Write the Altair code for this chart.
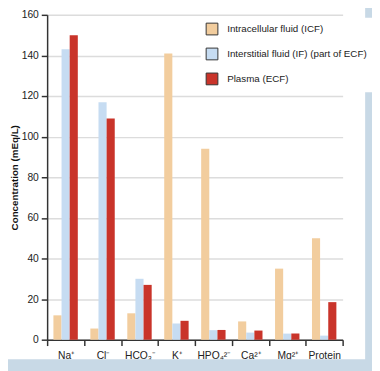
import altair as alt
import pandas as pd

categories = ["Na⁺", "Cl⁻", "HCO₃⁻", "K⁺", "HPO₄²⁻", "Ca²⁺", "Mg²⁺", "Protein"]
series = ["Intracellular fluid (ICF)", "Interstitial fluid (IF) (part of ECF)", "Plasma (ECF)"]
icf = [12, 5.5, 13, 141, 94, 9, 35, 50]
interstitial = [143, 117, 30, 8, 4.7, 3.5, 3, 2]
plasma = [150, 109, 27, 9.3, 4.8, 4.5, 3, 18.5]
colors = ["#f2cd9e", "#c6dcf2", "#c9342a"]
yticks = [0, 20, 40, 60, 80, 100, 120, 140, 160]

rows = []
for i, c in enumerate(categories):
    for s, vals in zip(series, [icf, interstitial, plasma]):
        rows.append({"ion": c, "fluid": s, "value": vals[i]})
df = pd.DataFrame(rows)

FONT = "Liberation Sans"
FS = 10.5
W, H = 302, 332
BG = "#c8d9e6"

bars = alt.Chart(df).mark_bar(size=8.3).encode(
    x=alt.X("ion:N", sort=categories,
            scale=alt.Scale(paddingInner=0, paddingOuter=0),
            axis=alt.Axis(title=None, labelAngle=0, tickBand="extent",
                          labelFont=FONT, labelFontSize=FS, labelColor="#222",
                          domainColor="#333", domainWidth=1.5,
                          tickColor="#333", tickWidth=1.5, tickSize=6,
                          labelPadding=5, grid=False)),
    xOffset=alt.XOffset("fluid:N", sort=series,
                        scale=alt.Scale(paddingOuter=0.77, paddingInner=0)),
    y=alt.Y("value:Q", scale=alt.Scale(domain=[0, 160], nice=False),
            axis=alt.Axis(title="Concentration (mEq/L)", values=yticks,
                          titleFont=FONT, titleFontSize=10, titleFontWeight="bold",
                          titleColor="#111", titlePadding=2,
                          labelFont=FONT, labelFontSize=FS, labelColor="#222",
                          labelPadding=3, tickSize=6, tickColor="#333", tickWidth=1.5,
                          domainColor="#333", domainWidth=1.5,
                          gridColor="#dcdcdc", gridWidth=1.5)),
    color=alt.Color("fluid:N", sort=series,
                    scale=alt.Scale(domain=series, range=colors),
                    legend=alt.Legend(title=None, orient="none", legendX=157, legendY=3,
                                      symbolType="square", symbolSize=144,
                                      symbolStrokeColor="#333", symbolStrokeWidth=1,
                                      symbolOpacity=1,
                                      labelFont=FONT, labelFontSize=10, labelColor="#222",
                                      labelOffset=9, rowPadding=8.5, labelLimit=0,
                                      padding=5, fillColor="white")),
)

strip_right = alt.Chart(alt.Data(values=[{}])).mark_rect(color=BG).encode(
    x=alt.value(W + 23), x2=alt.value(W + 40), y=alt.value(-10), y2=alt.value(H + 40))
strip_bottom = alt.Chart(alt.Data(values=[{}])).mark_rect(color=BG).encode(
    x=alt.value(-50), x2=alt.value(W + 40), y=alt.value(H + 20), y2=alt.value(H + 40))

chart = alt.layer(bars, strip_right, strip_bottom).properties(
    width=W, height=H,
    autosize=alt.AutoSizeParams(type="none"),
    padding={"left": 40, "top": 3, "right": 30, "bottom": 28},
    background="white",
).configure_view(stroke=None)

chart.save("out.html", embed_options={"renderer": "svg", "actions": False})
